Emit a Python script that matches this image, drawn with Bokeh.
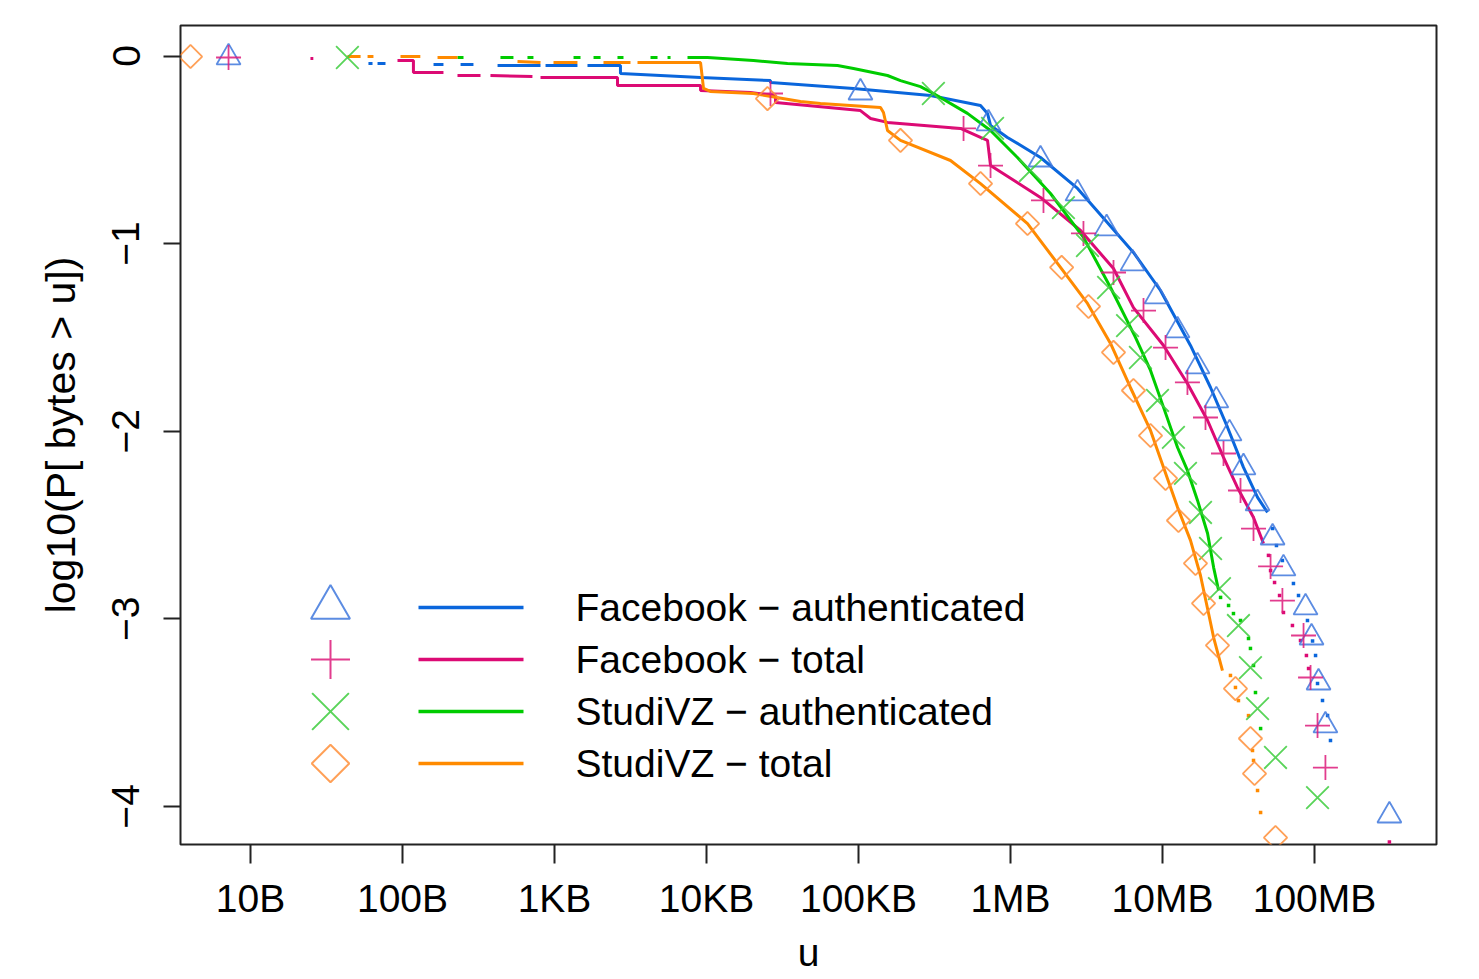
import math
import numpy as np
from bokeh.plotting import figure
from bokeh.models import Range1d, FixedTicker
from bokeh.core.properties import value
from bokeh.embed import file_html
from bokeh.resources import INLINE

FONT = "Liberation Sans"
FS = "39px"
FS_LAB = "41px"

# ---------------- axis ticks ----------------
x_ticks = [10, 100, 1000, 10000, 100000, 1000000, 10000000, 100000000]
x_tick_labels = ["10B", "100B", "1KB", "10KB", "100KB", "1MB", "10MB", "100MB"]
y_ticks = [0, -1, -2, -3, -4]
y_tick_labels = ["0", "\u22121", "\u22122", "\u22123", "\u22124"]

series_names = ["Facebook \u2212 authenticated", "Facebook \u2212 total",
                "StudiVZ \u2212 authenticated", "StudiVZ \u2212 total"]

nan = float("nan")

# ---------------- Facebook - authenticated (blue) ----------------
fb_auth_x = [59.7, 63.5, nan, 68.5, 77.3, nan, 160, 186, nan, 241, 293, nan, 422, 809, nan,
             873, 1416, nan, 1648, 2716, 2716, 9140, 26360, 26360, 92700, 297600, 635000,
             706000, 739000, 955000, 1.575e6, 2.76e6, 4.22e6, 6.44e6, 9.70e6, 1.528e7,
             2.07e7, 2.68e7, 3.41e7, 4.22e7, 4.91e7]
fb_auth_y = [-0.040, -0.040, nan, -0.040, -0.040, nan, -0.045, -0.045, nan, -0.045, -0.045, nan,
             -0.051, -0.051, nan, -0.051, -0.051, nan, -0.051, -0.051, -0.093, -0.115, -0.131,
             -0.141, -0.173, -0.211, -0.264, -0.306, -0.370, -0.434, -0.541, -0.706, -0.877,
             -1.047, -1.250, -1.543, -1.767, -1.980, -2.193, -2.353, -2.433]
fb_auth_tail_x = [5.30e7, 5.62e7, 6.15e7, 7.27e7, 7.85e7, 8.99e7, 9.71e7, 1.016e8, 1.047e8,
                  1.129e8, 1.219e8, 1.274e8]
fb_auth_tail_y = [-2.519, -2.609, -2.689, -2.812, -2.876, -3.009, -3.118, -3.195, -3.345,
                  -3.436, -3.516, -3.649]
fb_auth_mk_x = [7.17, 1.03e5, 7.16e5, 1.575e6, 2.76e6, 4.29e6, 6.35e6, 9.14e6, 1.256e7, 1.70e7,
                2.26e7, 2.76e7, 3.41e7, 4.22e7, 5.30e7, 6.25e7, 8.73e7, 9.56e7, 1.063e8,
                1.180e8, 3.11e8]
fb_auth_mk_y = [-0.008, -0.195, -0.360, -0.552, -0.733, -0.919, -1.106, -1.282, -1.463, -1.655,
                -1.836, -2.012, -2.193, -2.385, -2.567, -2.732, -2.940, -3.100, -3.340, -3.569,
                -4.049]

# ---------------- Facebook - total (magenta) ----------------
fb_tot_x = [24.8, 25.9, nan, 92.7, 118, 118, 186, nan, 230, 326, nan, 379, 716, nan, 809, 2596,
            2596, 9140, 9140, 19460, 28440, 28440, 1.03e5, 1.20e5, 1.552e5, 4.69e5, 6.35e5,
            7.06e5, 7.39e5, 1.575e6, 2.89e6, 4.76e6, 6.44e6, 1.016e7, 1.459e7, 1.98e7, 2.52e7,
            3.11e7, 3.97e7, 4.62e7]
fb_tot_y = [-0.013, -0.013, nan, -0.024, -0.024, -0.088, -0.088, nan, -0.104, -0.104, nan,
            -0.104, -0.109, nan, -0.115, -0.115, -0.157, -0.157, -0.184, -0.195, -0.211, -0.248,
            -0.291, -0.333, -0.354, -0.386, -0.434, -0.450, -0.584, -0.754, -0.930, -1.133,
            -1.341, -1.543, -1.746, -1.943, -2.140, -2.300, -2.460, -2.599]
fb_tot_tail_x = [4.98e7, 5.14e7, 5.46e7, 5.89e7, 6.25e7, 7.16e7, 8.09e7, 8.85e7, 9.14e7, 3.11e8]
fb_tot_tail_y = [-2.662, -2.743, -2.807, -2.876, -2.967, -3.036, -3.116, -3.196, -3.265, -4.19]
fb_tot_mk_x = [7.17, 26360, 4.91e5, 7.39e5, 1.648e6, 3.02e6, 4.76e6, 7.50e6, 1.047e7, 1.459e7,
               1.918e7, 2.52e7, 3.26e7, 3.97e7, 5.14e7, 6.15e7, 8.47e7, 9.42e7, 1.047e8, 1.180e8]
fb_tot_mk_y = [-0.008, -0.200, -0.386, -0.584, -0.770, -0.946, -1.154, -1.357, -1.554, -1.740,
               -1.927, -2.119, -2.316, -2.519, -2.721, -2.903, -3.089, -3.313, -3.569, -3.793]

# ---------------- StudiVZ - authenticated (green) ----------------
vz_auth_x = [230, 252, nan, 441, 537, nan, 664, 727, nan, 1334, 1483, nan, 1806, 2010, nan,
             2596, 2844, nan, 4282, 4763, nan, 5541, 5800, nan, 7499, 10160, 20370, 34120, 72780,
             92700, 1.552e5, 1.889e5, 2.557e5, 3.113e5, 5.21e5, 7.39e5, 1.111e6, 1.833e6,
             3.02e6, 4.55e6, 6.64e6, 8.34e6, 1.016e7, 1.256e7, 1.459e7, 1.70e7, 1.98e7,
             2.17e7, 2.34e7]
vz_auth_y = [-0.008, -0.008, nan, -0.008, -0.008, nan, -0.008, -0.008, nan, -0.008, -0.008, nan,
             -0.008, -0.008, nan, -0.008, -0.008, nan, -0.008, -0.008, nan, -0.008, -0.008, nan,
             -0.008, -0.008, -0.024, -0.040, -0.051, -0.067, -0.104, -0.131, -0.163, -0.200,
             -0.306, -0.397, -0.541, -0.733, -0.967, -1.234, -1.500, -1.676, -1.873, -2.087,
             -2.209, -2.369, -2.545, -2.727, -2.849]
vz_auth_tail_x = [2.41e7, 2.72e7, 2.93e7, 3.26e7, 3.68e7, 3.79e7, 3.97e7, 4.09e7, 4.42e7]
vz_auth_tail_y = [-2.886, -2.929, -2.972, -3.009, -3.105, -3.158, -3.249, -3.393, -3.585]
vz_auth_mk_x = [43.4, 3.11e5, 7.62e5, 1.355e6, 2.23e6, 3.21e6, 4.42e6, 5.89e6, 7.16e6, 9.27e6,
                1.18e7, 1.416e7, 1.778e7, 2.07e7, 2.37e7, 3.16e7, 3.79e7, 4.22e7, 5.54e7,
                1.047e8]
vz_auth_mk_y = [-0.008, -0.200, -0.386, -0.610, -0.808, -1.010, -1.234, -1.437, -1.607, -1.836,
                -2.033, -2.225, -2.433, -2.625, -2.839, -3.036, -3.260, -3.479, -3.739, -3.953]

# ---------------- StudiVZ - total (orange) ----------------
vz_tot_x = [43.4, 53.0, nan, 58.9, 64.4, nan, 97.0, 131, nan, 170, 230, nan, 571, 809, nan,
            985, 1416, nan, 2100, 3162, nan, 3516, 9140, 9556, 10620, 20370, 41520, 56230,
            1.396e5, 1.46e5, 1.552e5, 1.889e5, 4.03e5, 6.35e5, 1.294e6, 2.133e6, 3.21e6,
            4.55e6, 6.15e6, 8.34e6, 1.016e7, 1.256e7, 1.528e7, 1.778e7, 2.01e7, 2.17e7, 2.48e7]
vz_tot_y = [-0.003, -0.003, nan, -0.003, -0.003, nan, -0.003, -0.003, nan, -0.008, -0.008, nan,
            -0.029, -0.035, nan, -0.035, -0.035, nan, -0.035, -0.035, nan, -0.035, -0.035,
            -0.173, -0.189, -0.200, -0.243, -0.253, -0.275, -0.301, -0.397, -0.450, -0.557,
            -0.680, -0.893, -1.127, -1.319, -1.532, -1.767, -1.996, -2.193, -2.406, -2.582,
            -2.769, -2.972, -3.100, -3.276]
vz_tot_tail_x = [2.80e7, 3.02e7, 3.16e7, 3.68e7, 3.91e7, 3.97e7, 4.22e7, 4.42e7]
vz_tot_tail_y = [-3.302, -3.366, -3.436, -3.516, -3.702, -3.755, -3.915, -4.033]
vz_tot_mk_x = [4.03, 25180, 1.889e5, 6.35e5, 1.294e6, 2.17e6, 3.26e6, 4.76e6, 6.44e6, 8.34e6,
               1.047e7, 1.274e7, 1.648e7, 1.862e7, 2.30e7, 3.02e7, 3.79e7, 4.03e7, 5.54e7]
vz_tot_mk_y = [-0.003, -0.227, -0.450, -0.680, -0.893, -1.127, -1.335, -1.580, -1.783, -2.023,
               -2.252, -2.476, -2.705, -2.918, -3.142, -3.372, -3.638, -3.825, -4.166]

line_colors = ["#0a66dc", "#dc0a74", "#00cc00", "#ff8a00"]
marker_colors = ["#3f78dd", "#dd1a7a", "#3ccc3c", "#ff8f3a"]

# ---------------- layout geometry (screen px of the reference) ----------------
FRAME_L, FRAME_R, FRAME_T, FRAME_B = 180, 1436, 25, 844
X10_PX, DEC_PX = 250.0, 152.0
Y0_PX, UNIT_PX = 55.5, 187.6


def px_to_x(px):
    return 10 ** (1 + (px - X10_PX) / DEC_PX)


def px_to_y(py):
    return (Y0_PX - py) / UNIT_PX


p = figure(width=1479, height=979, x_axis_type="log",
           x_range=Range1d(px_to_x(FRAME_L), px_to_x(FRAME_R)),
           y_range=Range1d(px_to_y(FRAME_B), px_to_y(FRAME_T)),
           output_backend="svg", toolbar_location=None,
           min_border_left=FRAME_L, min_border_right=1479 - FRAME_R,
           min_border_top=FRAME_T, min_border_bottom=979 - FRAME_B)

p.grid.visible = False
p.outline_line_color = "#222222"
p.outline_line_width = 2
p.background_fill_color = "white"
p.border_fill_color = "white"

p.xaxis.ticker = FixedTicker(ticks=x_ticks)
p.xaxis.major_label_overrides = dict(zip(x_ticks, x_tick_labels))
p.yaxis.ticker = FixedTicker(ticks=y_ticks)
p.yaxis.major_label_overrides = dict(zip(y_ticks, y_tick_labels))
p.yaxis.major_label_orientation = "vertical"

for ax in (p.xaxis[0], p.yaxis[0]):
    ax.axis_line_color = None
    ax.major_tick_line_color = "#222222"
    ax.major_tick_line_width = 2
    ax.major_tick_in = 0
    ax.minor_tick_line_color = None
    ax.major_label_text_font = FONT
    ax.major_label_text_font_size = FS
    ax.major_label_text_color = "black"
    ax.axis_label_text_font = FONT
    ax.axis_label_text_font_size = FS_LAB
    ax.axis_label_text_font_style = "normal"
    ax.axis_label_text_color = "black"

p.xaxis.axis_label_text_font_size = FS
p.xaxis.major_tick_out = 19
p.yaxis.major_tick_out = 17
p.xaxis.major_label_standoff = 13
p.yaxis.major_label_standoff = 24
p.xaxis.axis_label = "u"
p.yaxis.axis_label = "log10(P[ bytes > u])"
p.xaxis.axis_label_standoff = 8
p.yaxis.axis_label_standoff = 26

series = [
    (fb_auth_x, fb_auth_y, fb_auth_tail_x, fb_auth_tail_y, fb_auth_mk_x, fb_auth_mk_y),
    (fb_tot_x, fb_tot_y, fb_tot_tail_x, fb_tot_tail_y, fb_tot_mk_x, fb_tot_mk_y),
    (vz_auth_x, vz_auth_y, vz_auth_tail_x, vz_auth_tail_y, vz_auth_mk_x, vz_auth_mk_y),
    (vz_tot_x, vz_tot_y, vz_tot_tail_x, vz_tot_tail_y, vz_tot_mk_x, vz_tot_mk_y),
]

markers = [("triangle", 24, 0.0), ("cross", 25, 0.0), ("x", 32, 0.0), ("square", 16.5, math.pi / 4)]
legend_markers = [("triangle", 39, 0.0), ("cross", 39, 0.0), ("x", 52, 0.0), ("square", 26.5, math.pi / 4)]

# lines first
for i, (lx, ly, tx, ty, mx, my) in enumerate(series):
    p.line(lx, ly, line_color=line_colors[i], line_width=3)
    p.scatter(tx, ty, marker="square", size=3.5, line_color=None, fill_color=line_colors[i])

# markers
for i, (lx, ly, tx, ty, mx, my) in enumerate(series):
    mk, sz, ang = markers[i]
    p.scatter(mx, my, marker=mk, size=sz, angle=ang, fill_color=None,
              line_color=marker_colors[i], line_width=1.8, line_alpha=0.85)

# legend (drawn inside plot, positioned in reference screen px)
leg_rows = [607, 659, 711, 763]
leg_mk_px, leg_l0, leg_l1, leg_txt = 330, 418, 523, 575
for i, row in enumerate(leg_rows):
    mk, sz, ang = legend_markers[i]
    p.scatter([px_to_x(leg_mk_px)], [px_to_y(row)], marker=mk, size=sz, angle=ang,
              fill_color=None, line_color=marker_colors[i], line_width=2, line_alpha=0.85)
    p.line([px_to_x(leg_l0), px_to_x(leg_l1)], [px_to_y(row), px_to_y(row)],
           line_color=line_colors[i], line_width=3.5)
    p.text([px_to_x(leg_txt)], [px_to_y(row)], text=[series_names[i]],
           text_font=value(FONT), text_font_size=value(FS), text_color="black",
           text_baseline="middle", text_align="left")

open("out.html", "w").write(file_html(p, INLINE))
